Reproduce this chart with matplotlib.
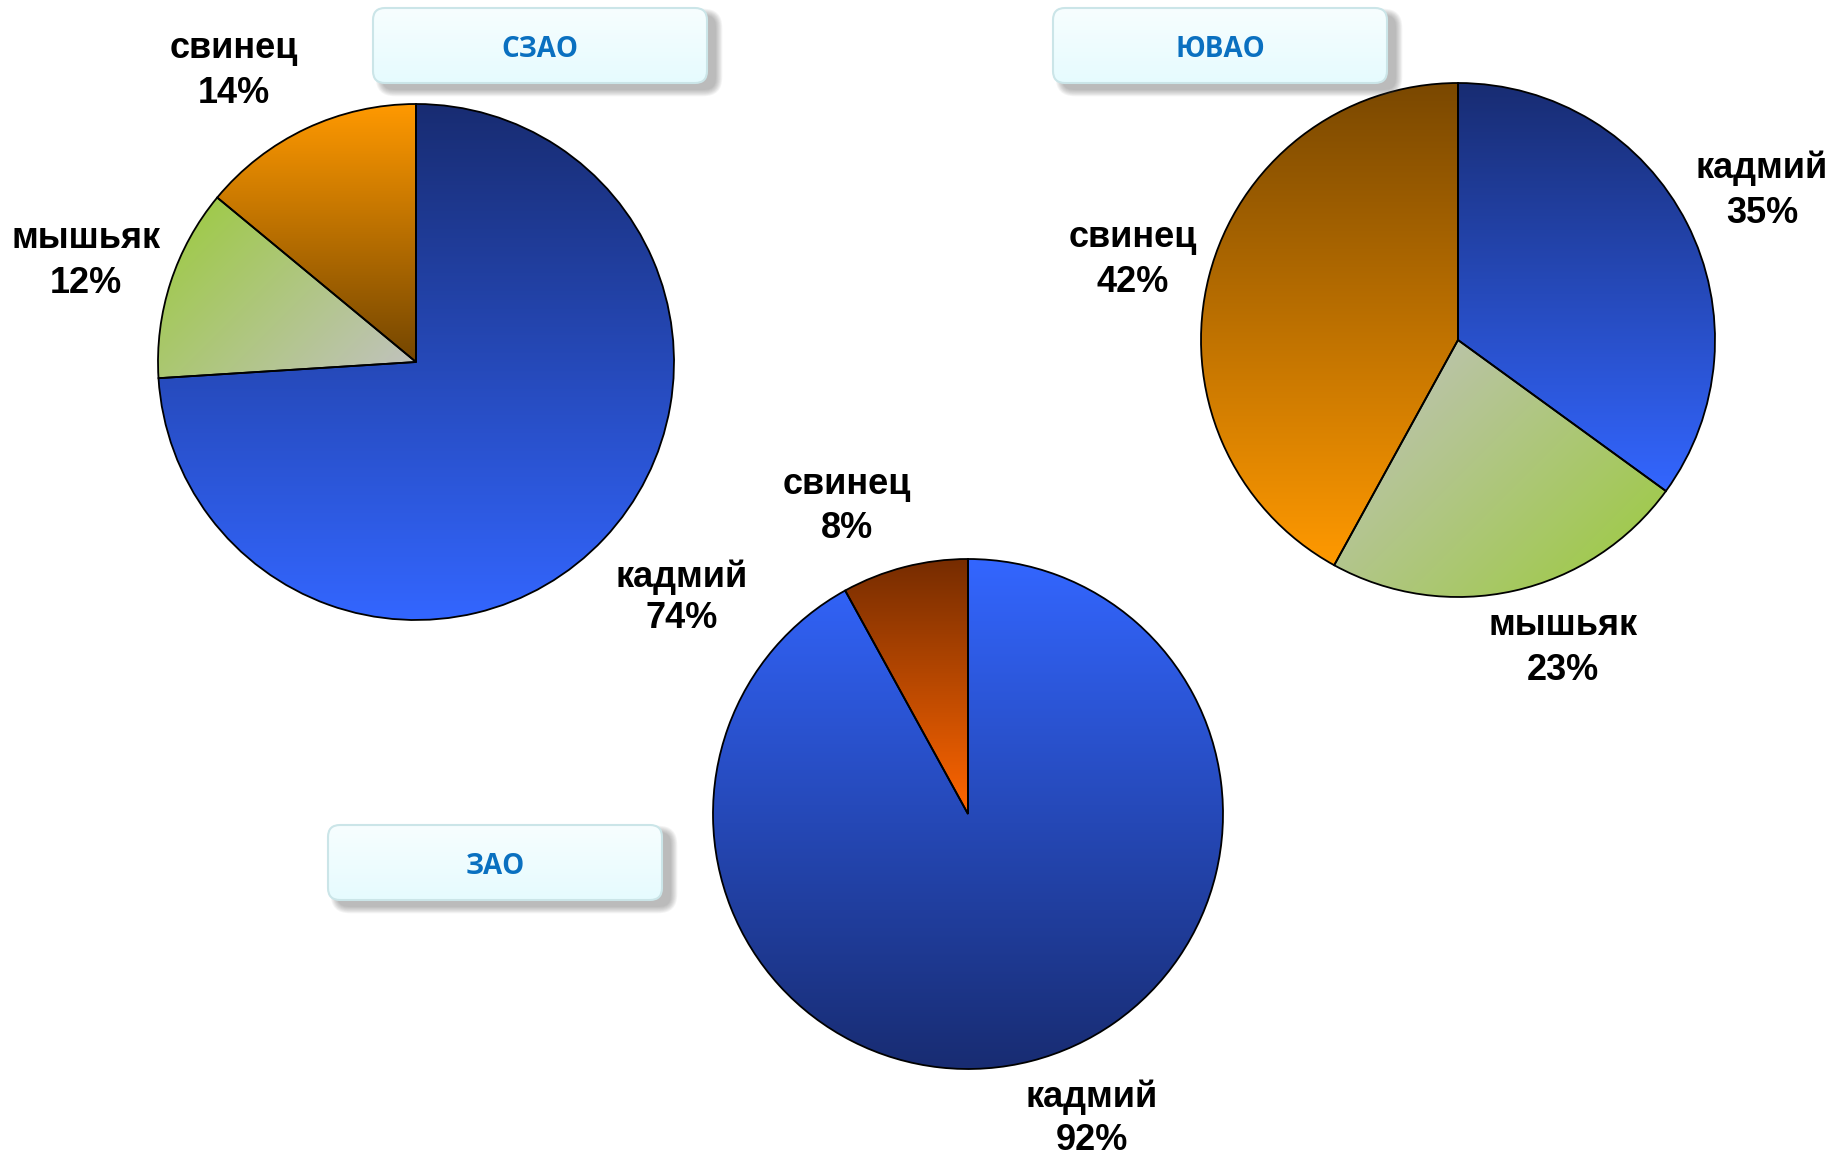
import numpy as np
import matplotlib.pyplot as plt
from matplotlib.colors import to_rgb
from matplotlib.patches import FancyBboxPatch

# metal shares by district, %
districts = ['СЗАО', 'ЮВАО', 'ЗАО']
szao_names = ['кадмий', 'мышьяк', 'свинец']
szao_vals = [74, 12, 14]
yuvao_names = ['кадмий', 'мышьяк', 'свинец']
yuvao_vals = [35, 23, 42]
zao_names = ['кадмий', 'свинец']
zao_vals = [92, 8]

W, H = 1849, 1159
fig = plt.figure(figsize=(W / 100, H / 100), dpi=100)
ax = fig.add_axes([0, 0, 1, 1])

DOWN = (0, -1)
DIAG = (1, -1)
navy, blue = '#182c72', '#3366ff'
orange, brown = '#ff9900', '#744600'
green, grey = '#9bcb3a', '#c2c2c2'


def gradient(patch, c0, c1, direction, z=1):
    bb = patch.get_path().get_extents()
    xs = np.linspace(bb.x0, bb.x1, 300)
    ys = np.linspace(bb.y1, bb.y0, 300)
    X, Y = np.meshgrid(xs, ys)
    t = X * direction[0] + Y * direction[1]
    t = (t - t.min()) / (t.max() - t.min())
    rgb = (1 - t)[..., None] * np.array(to_rgb(c0)) + t[..., None] * np.array(to_rgb(c1))
    im = ax.imshow(rgb, extent=(bb.x0, bb.x1, bb.y0, bb.y1), origin='upper',
                   interpolation='bilinear', zorder=z)
    im.set_clip_path(patch)


def draw_pie(vals, cx, cy, r, fills):
    wedges, _ = ax.pie(vals, center=(cx, H - cy), radius=r, startangle=90,
                       counterclock=False, normalize=True,
                       wedgeprops=dict(facecolor='none', edgecolor='black', linewidth=1.3, zorder=2))
    for w, (c0, c1, d) in zip(wedges, fills):
        gradient(w, c0, c1, d)


def labels(names, vals, spots):
    for n, v, (x, yb1, yb2) in zip(names, vals, spots):
        ax.text(x, H - yb1, n, ha='center', va='baseline', fontsize=26,
                fontweight='bold', family='Liberation Sans', zorder=6)
        ax.text(x, H - yb2, f'{v}%', ha='center', va='baseline', fontsize=26,
                fontweight='bold', family='Liberation Sans', zorder=6)


def title_box(x0, ytop, w, h, text):
    y0 = H - ytop - h
    for i in range(8):
        sh = FancyBboxPatch((x0 + 9, y0 - 7), w, h,
                            boxstyle=f'round,pad={i * 0.9},rounding_size={12 + i}',
                            fc='#555555', ec='none', alpha=0.06, zorder=3)
        ax.add_patch(sh)
    box = FancyBboxPatch((x0, y0), w, h, boxstyle='round,pad=0,rounding_size=12',
                         fc='none', ec='#cbe5e8', lw=1.5, zorder=5)
    ax.add_patch(box)
    gradient(box, '#f7feff', '#e6fbfe', DOWN, z=4)
    ax.text(x0 + w / 2, y0 + h / 2 - 4, text, ha='center', va='center', color='#0a70c0',
            fontsize=20, fontweight='bold', family='Open Sans', zorder=6)


# СЗАО
draw_pie(szao_vals, 416, 362, 258,
         [(navy, blue, DOWN), (green, grey, DIAG), (orange, brown, DOWN)])
labels(szao_names, szao_vals, [(682, 587, 628), (86, 248, 293), (234, 58, 103)])

# ЮВАО
draw_pie(yuvao_vals, 1458, 340, 257,
         [(navy, blue, DOWN), (grey, green, DIAG), ('#7a4800', orange, DOWN)])
labels(yuvao_names, yuvao_vals, [(1762, 178, 223), (1563, 635, 680), (1133, 247, 292)])

# ЗАО
draw_pie(zao_vals, 968, 814, 255,
         [(blue, navy, DOWN), ('#762c00', '#ff6600', DOWN)])
labels(zao_names, zao_vals, [(1092, 1107, 1150), (847, 494, 538)])

title_box(373, 8, 334, 75, districts[0])
title_box(1053, 8, 334, 75, districts[1])
title_box(328, 825, 334, 75, districts[2])

ax.set_xlim(0, W)
ax.set_ylim(0, H)
ax.set_aspect('auto')
ax.axis('off')

plt.savefig('out.png', dpi=100, facecolor='white')
